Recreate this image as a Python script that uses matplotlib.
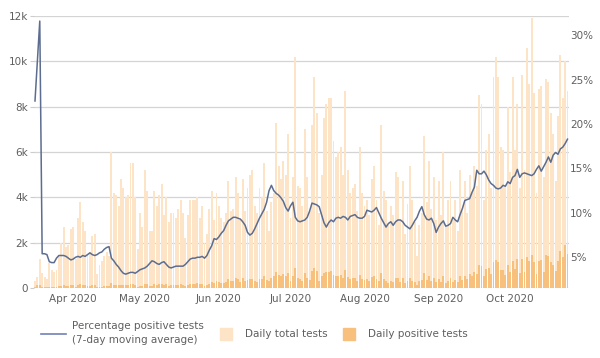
import numpy as np
import pandas as pd
import matplotlib
matplotlib.use('Agg')
import matplotlib.pyplot as plt
import matplotlib.dates as mdates
from matplotlib.lines import Line2D
from matplotlib.ticker import FuncFormatter, FixedLocator

# daily data, starting 16 Mar 2020
start_date = '2020-03-16'

total_tests = [
    300, 500, 1300, 650, 500, 400, 1100, 800, 700, 800,
    1400, 2000, 2700, 1800, 1900, 2600, 2700, 1300, 3100, 3800,
    2900, 2500, 1500, 1600, 2300, 2400, 600, 1000, 1200, 1400,
    1600, 1400, 6000, 4200, 4100, 3600, 4800, 4400, 4000, 4100,
    5500, 5500, 4000, 1700, 3300, 2700, 5200, 4300, 2500, 2500,
    4300, 3600, 4100, 4600, 3200, 4000, 2900, 3300, 3300, 3100,
    3500, 3900, 3300, 2200, 3200, 3900, 3900, 3900, 4000, 3100,
    3600, 2000, 2400, 3500, 4300, 3000, 4200, 3600, 3100, 2900,
    3300, 4700, 3400, 3500, 4900, 4200, 3000, 4800, 3400, 4400,
    5000, 5200, 3600, 3300, 4400, 4000, 5500, 3400, 2500, 3800,
    4200, 7300, 5400, 4800, 5600, 5000, 6800, 3100, 4900, 10200,
    4500, 4400, 3600, 7000, 4900, 3400, 7200, 9300, 7700, 3300,
    5000, 7500, 8100, 8400, 8400, 6500, 5800, 6000, 6200, 5000,
    8700, 5200, 4200, 4400, 4600, 3400, 6200, 4200, 3600, 3900,
    3200, 4800, 5400, 3900, 2800, 7200, 4300, 3900, 2800, 3600,
    3200, 5100, 4900, 3000, 4700, 2400, 3700, 5400, 3900, 2900,
    1400, 2800, 3300, 6700, 3800, 5600, 3500, 4900, 3000, 4700,
    3200, 6000, 2700, 3900, 4700, 3000, 3900, 2500, 5200, 3400,
    4700, 3300, 5000, 4200, 5400, 4500, 8500, 8100, 3900, 6100,
    6800, 4400, 9300, 10200, 9300, 6200, 6100, 4500, 8000, 5100,
    9300, 6100, 8100, 4400, 9400, 5200, 10600, 9000, 11900, 8600,
    4200, 8800, 8900, 4900, 9200, 9100, 7700, 6800, 4700, 7600,
    10300, 8400, 10000, 8700,
]

positive_tests = [
    60, 120, 150, 40, 30, 25, 55, 40, 35, 40,
    70, 100, 140, 90, 100, 130, 140, 65, 150, 190,
    150, 130, 80, 85, 120, 125, 35, 55, 65, 80,
    95, 85, 200, 150, 140, 120, 150, 130, 120, 130,
    170, 180, 130, 60, 110, 90, 190, 160, 100, 100,
    180, 150, 170, 190, 140, 170, 110, 130, 130, 120,
    140, 160, 140, 90, 140, 180, 190, 190, 200, 160,
    180, 100, 120, 190, 250, 200, 290, 260, 230, 220,
    270, 400, 300, 320, 460, 390, 280, 420, 300, 360,
    380, 400, 300, 280, 380, 400, 540, 370, 300, 460,
    520, 700, 560, 520, 600, 540, 680, 330, 520, 900,
    430, 400, 330, 650, 460, 350, 760, 880, 740, 330,
    520, 680, 700, 720, 750, 560, 520, 550, 560, 460,
    780, 480, 400, 420, 440, 320, 560, 400, 340, 390,
    330, 480, 530, 400, 290, 650, 380, 330, 240, 320,
    280, 440, 430, 270, 420, 210, 320, 440, 330, 260,
    140, 290, 340, 660, 360, 520, 330, 450, 260, 400,
    280, 520, 240, 330, 420, 280, 360, 250, 520, 360,
    520, 380, 600, 520, 700, 600, 1000, 950, 520, 820,
    900, 600, 1150, 1250, 1150, 800, 780, 580, 1000, 700,
    1200, 850, 1300, 650, 1300, 720, 1350, 1200, 1450, 1150,
    620, 1200, 1250, 720, 1450, 1400, 1150, 1000, 750, 1200,
    1650, 1350, 1900, 1500,
]

# percentage positive, 7-day moving average
pct_positive = [
    22.6, 27.0, 31.6, 5.4, 5.4, 5.3, 4.5, 4.4, 4.4, 4.9,
    5.2, 5.2, 5.2, 5.1, 4.9, 4.7, 4.8, 5.0, 5.1, 5.0,
    5.2, 5.1, 5.3, 5.5, 5.3, 5.2, 5.3, 5.5, 5.6, 5.9,
    6.1, 6.2, 4.9, 4.6, 4.2, 3.9, 3.5, 3.2, 3.1, 3.2,
    3.3, 3.3, 3.2, 3.4, 3.6, 3.7, 3.8, 4.0, 4.3, 4.6,
    4.5, 4.3, 4.2, 4.4, 4.5, 4.2, 3.9, 3.8, 3.9, 4.0,
    4.0, 4.0, 4.0, 4.2, 4.5, 4.8, 4.9, 4.9, 5.0, 5.0,
    5.1, 4.9, 5.2, 5.8, 6.3, 7.1, 7.0, 7.3, 7.7, 8.0,
    8.6, 9.1, 9.3, 9.5, 9.5, 9.4, 9.3, 9.0, 8.6, 7.8,
    7.5, 7.7, 8.2, 8.8, 9.4, 9.9, 10.4, 11.2, 12.5, 13.1,
    12.5, 12.2, 12.0, 11.7, 11.3, 10.6, 10.2, 10.8, 11.2, 9.5,
    9.1, 9.0, 9.1, 9.2, 9.5, 10.2, 11.1, 11.0, 10.9, 10.7,
    9.8, 8.9, 8.4, 8.9, 9.2, 9.0, 9.4, 9.5, 9.4, 9.6,
    9.5, 9.2, 9.6, 9.7, 9.8, 9.5, 9.4, 9.4, 9.6, 10.3,
    10.2, 10.1, 10.3, 10.6, 10.0, 9.4, 8.9, 8.4, 8.8, 9.0,
    8.6, 9.0, 9.2, 9.2, 9.0, 8.6, 8.4, 8.2, 8.6, 9.1,
    9.5, 10.2, 10.7, 9.8, 9.3, 9.2, 9.4, 8.8, 7.8, 8.4,
    8.8, 9.1, 8.5, 8.6, 8.8, 9.5, 9.2, 9.0, 9.8, 10.5,
    11.4, 11.5, 11.6, 12.3, 12.9, 14.8, 14.4, 14.4, 14.7, 14.3,
    13.7, 13.3, 13.1, 12.8, 12.7, 12.8, 13.1, 13.0, 13.5, 13.3,
    14.0, 14.2, 14.9, 14.0, 14.4, 14.5, 14.4, 14.3, 14.2, 14.4,
    14.9, 15.3, 14.7, 15.2, 15.7, 16.3, 15.7, 16.5, 16.8, 16.6,
    17.2, 17.4, 17.8, 18.3,
]

left_ticks = [0, 2000, 4000, 6000, 8000, 10000, 12000]
left_labels = ['0', '2k', '4k', '6k', '8k', '10k', '12k']
right_ticks = [5, 10, 15, 20, 25, 30]

dates = pd.date_range(start_date, periods=len(total_tests), freq='D')

col_total = '#FDE4C6'
col_pos = '#F7C07C'
col_line = '#5C6D8F'
col_text = '#5f5f5f'

plt.rcParams['font.family'] = ['DejaVu Sans']

fig = plt.figure(figsize=(6, 3.58), dpi=100)
ax = fig.add_axes([33.8 / 600, 1 - 288 / 358, (568.7 - 33.8) / 600, (288 - 16) / 358])

ax.bar(dates, total_tests, width=0.8, color=col_total, zorder=2)
ax.bar(dates, positive_tests, width=0.8, color=col_pos, zorder=3)

ax.set_ylim(0, 12000)
ax.set_xlim(dates[0] - pd.Timedelta(hours=12), dates[-1] + pd.Timedelta(hours=12))
ax.yaxis.set_major_locator(FixedLocator(left_ticks))
ax.set_yticklabels(left_labels)
ax.grid(axis='y', color='#d4d4d4', lw=0.9, zorder=0)
ax.set_axisbelow(True)
ax.xaxis.set_major_locator(mdates.MonthLocator())
ax.xaxis.set_major_formatter(mdates.DateFormatter('%b %Y'))
for s in ax.spines.values():
    s.set_visible(False)
ax.tick_params(axis='y', length=3, color='#cccccc', pad=1, labelsize=7.5, labelcolor=col_text)
ax.tick_params(axis='x', length=0, pad=4, labelsize=7.5, labelcolor=col_text)

ax2 = ax.twinx()
ax2.plot(dates, pct_positive, color=col_line, lw=1.1, zorder=5)
ax2.set_ylim(1.54, 32.17)
ax2.yaxis.set_major_locator(FixedLocator(right_ticks))
ax2.yaxis.set_major_formatter(FuncFormatter(lambda v, p: f'{v:.0f}%'))
for s in ax2.spines.values():
    s.set_visible(False)
ax2.tick_params(axis='y', length=0, pad=1, labelsize=7.5, labelcolor=col_text)

handles = [
    Line2D([], [], color='#6f82b8', lw=1.2),
    Line2D([], [], marker='s', ls='none', markersize=8, color=col_total),
    Line2D([], [], marker='s', ls='none', markersize=8, color=col_pos),
]
labels = ['Percentage positive tests\n(7-day moving average)', 'Daily total tests', 'Daily positive tests']
leg = fig.legend(handles, labels, loc='upper left', bbox_to_anchor=(36 / 600, 1 - 316 / 358),
                 ncol=3, frameon=False, fontsize=7.5, handlelength=2.4, handletextpad=0.6,
                 columnspacing=0.9, borderpad=0, labelcolor=col_text)
for t in leg.get_texts():
    t.set_linespacing(1.5)

fig.savefig('out.png', dpi=100)
